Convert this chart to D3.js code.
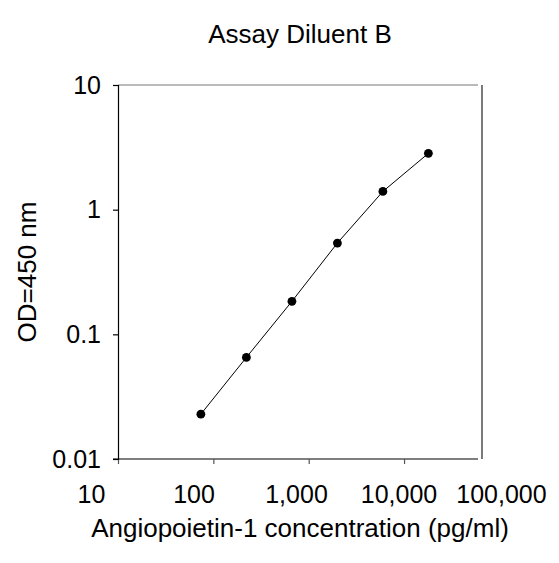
<!DOCTYPE html>
<html>
<head>
<meta charset="utf-8">
<script src="https://cdn.jsdelivr.net/npm/d3@7"></script>
<style>
  body { margin: 0; background: #fff; }
  svg { font-family: "Liberation Sans", Arial, sans-serif; }
</style>
</head>
<body>
<div id="chart"></div>
<script>
// Standard curve data
const concentrations = [74, 222, 667, 2000, 6000, 18000];
const odValues = [0.0229, 0.0653, 0.184, 0.540, 1.40, 2.83];

const xTicks = [10, 100, 1000, 10000, 100000];
const xTickLabels = ['10', '100', '1,000', '10,000', '100,000'];
const yTicks = [0.01, 0.1, 1, 10];
const yTickLabels = ['0.01', '0.1', '1', '10'];

const title = 'Assay Diluent B';
const xTitle = 'Angiopoietin-1 concentration (pg/ml)';
const yTitle = 'OD=450 nm';

const width = 559;
const height = 563;

const plotLeft = 118, plotRight = 482, plotTop = 85, plotBottom = 459;

const svg = d3.select('#chart')
  .append('svg')
  .attr('width', width)
  .attr('height', height);

const x = d3.scaleLog().domain([10, 100000]).range([plotLeft, plotLeft + 4 * 95.35]);
// labels in the original sit a little off their ticks
const xLabelPos = d3.scaleLog().domain([10, 100000]).range([91, 501]);
const y = d3.scaleLog().domain([0.01, 10]).range([plotBottom, plotTop]);

// top border (grey) and right border
svg.append('line')
  .attr('x1', plotLeft).attr('x2', 478)
  .attr('y1', plotTop).attr('y2', plotTop)
  .attr('stroke', '#777').attr('stroke-width', 1.2);

svg.append('line')
  .attr('x1', plotRight).attr('x2', plotRight)
  .attr('y1', plotTop).attr('y2', plotBottom)
  .attr('stroke', '#222').attr('stroke-width', 1.2);

// x axis line and ticks
svg.append('line')
  .attr('x1', plotLeft - 5).attr('x2', 478)
  .attr('y1', plotBottom).attr('y2', plotBottom)
  .attr('stroke', '#000').attr('stroke-width', 1.2);

svg.append('g')
  .attr('transform', 'translate(0,' + plotBottom + ')')
  .call(d3.axisBottom(x).tickValues(xTicks.slice(0, 4)).tickSize(5).tickFormat(''))
  .call(g => g.select('.domain').remove())
  .call(g => g.selectAll('.tick line').attr('stroke', '#555').attr('stroke-width', 1.2));

svg.append('g')
  .attr('transform', 'translate(0,' + plotBottom + ')')
  .call(d3.axisBottom(xLabelPos).tickValues(xTicks).tickSize(0)
    .tickFormat((d, i) => xTickLabels[i]))
  .call(g => g.select('.domain').remove())
  .call(g => g.selectAll('text')
    .attr('font-size', '25px')
    .attr('font-family', '"Liberation Sans", Arial, sans-serif')
    .attr('fill', '#000')
    .attr('y', 0)
    .attr('dy', '44px'));

// y axis
svg.append('g')
  .attr('transform', 'translate(' + plotLeft + ',0)')
  .call(d3.axisLeft(y).tickValues(yTicks).tickSize(5)
    .tickFormat((d, i) => yTickLabels[i]).tickPadding(12))
  .call(g => g.select('.domain')
    .attr('stroke', '#000').attr('stroke-width', 1.2))
  .call(g => g.selectAll('.tick line').attr('stroke', '#000').attr('stroke-width', 1.2))
  .call(g => g.selectAll('text')
    .attr('font-size', '25px')
    .attr('font-family', '"Liberation Sans", Arial, sans-serif')
    .attr('fill', '#000'));

// curve
const line = d3.line()
  .x((d, i) => x(concentrations[i]))
  .y(d => y(d));

svg.append('path')
  .datum(odValues)
  .attr('fill', 'none')
  .attr('stroke', '#000')
  .attr('stroke-width', 1)
  .attr('d', line);

svg.selectAll('circle.pt')
  .data(odValues)
  .enter()
  .append('circle')
  .attr('class', 'pt')
  .attr('cx', (d, i) => x(concentrations[i]))
  .attr('cy', d => y(d))
  .attr('r', 4.4)
  .attr('fill', '#000');

// titles
svg.append('text')
  .attr('x', 300).attr('y', 43)
  .attr('text-anchor', 'middle')
  .attr('font-size', '26px')
  .text(title);

svg.append('text')
  .attr('x', 300).attr('y', 537)
  .attr('text-anchor', 'middle')
  .attr('font-size', '26px')
  .text(xTitle);

svg.append('text')
  .attr('transform', 'translate(36,272) rotate(-90)')
  .attr('text-anchor', 'middle')
  .attr('font-size', '26px')
  .text(yTitle);
</script>
</body>
</html>
